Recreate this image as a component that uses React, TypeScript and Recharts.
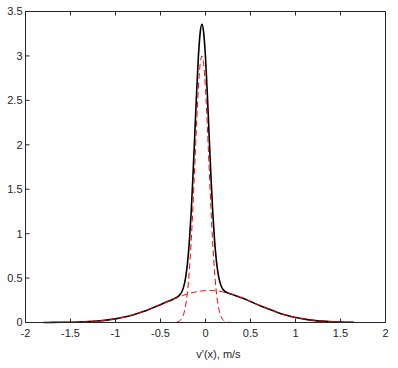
import { Line, LineChart, XAxis, YAxis } from "recharts";

// sample positions, m/s
const xs = [
  -1.8, -1.7, -1.6, -1.5, -1.4, -1.3, -1.2, -1.1, -1.0, -0.9, -0.8, -0.7, -0.6, -0.5, -0.4,
  -0.36, -0.34, -0.32, -0.3, -0.28, -0.26, -0.24, -0.22, -0.2, -0.18, -0.16, -0.14, -0.12, -0.1,
  -0.08, -0.06, -0.04, -0.02, 0, 0.02, 0.04, 0.06, 0.08, 0.1, 0.12, 0.14, 0.16, 0.18, 0.2, 0.22, 0.24,
  0.3, 0.4, 0.5, 0.6, 0.7, 0.8, 0.9, 1.0, 1.1, 1.2, 1.3, 1.4, 1.5, 1.6, 1.65,
];

// black solid curve
const total = [
  0.0, 0.001, 0.002, 0.003, 0.006, 0.01, 0.017, 0.027, 0.041, 0.062, 0.088, 0.12, 0.159, 0.201, 0.244,
  0.262, 0.272, 0.282, 0.296, 0.317, 0.352, 0.412, 0.512, 0.67, 0.905, 1.227, 1.632, 2.094, 2.563,
  2.973, 3.254, 3.355, 3.258, 2.982, 2.577, 2.112, 1.655, 1.254, 0.935, 0.704, 0.55, 0.454, 0.397, 0.366, 0.347, 0.336,
  0.315, 0.278, 0.236, 0.192, 0.151, 0.113, 0.082, 0.057, 0.038, 0.024, 0.015, 0.009, 0.005, 0.003, 0.002,
];

// red dashed, narrow component
const narrow = [
  0, 0, 0, 0, 0, 0, 0, 0, 0, 0, 0, 0, 0, 0, 0,
  0.001, 0.002, 0.004, 0.01, 0.024, 0.051, 0.104, 0.197, 0.349, 0.578, 0.895, 1.295, 1.752, 2.217,
  2.623, 2.901, 3.0, 2.901, 2.623, 2.217, 1.752, 1.295, 0.895, 0.578, 0.349, 0.197, 0.104, 0.051, 0.024, 0.01, 0.004,
  0, 0, 0, 0, 0, 0, 0, 0, 0, 0, 0, 0, 0, 0, 0,
];

// red dashed, wide component
const wide = [
  0.0, 0.001, 0.002, 0.003, 0.006, 0.01, 0.017, 0.027, 0.041, 0.062, 0.088, 0.12, 0.159, 0.201, 0.244,
  0.261, 0.27, 0.278, 0.286, 0.293, 0.301, 0.308, 0.315, 0.321, 0.327, 0.332, 0.337, 0.342, 0.346,
  0.35, 0.353, 0.355, 0.357, 0.359, 0.36, 0.36, 0.36, 0.359, 0.357, 0.355, 0.353, 0.35, 0.346, 0.342, 0.337, 0.332,
  0.315, 0.278, 0.236, 0.192, 0.151, 0.113, 0.082, 0.057, 0.038, 0.024, 0.015, 0.009, 0.005, 0.003, 0.002,
];

const xTicks = [-2, -1.5, -1, -0.5, 0, 0.5, 1, 1.5, 2];
const yTicks = [0, 0.5, 1, 1.5, 2, 2.5, 3, 3.5];

const data = xs.map((x, i) => ({ x, total: total[i], narrow: narrow[i], wide: wide[i] }));

const ink = "#262626";
const font = { fontSize: 11, fill: ink, fontFamily: "'Liberation Sans', Arial, sans-serif" };
const blank = () => "";

export default function App() {
  return (
    <div style={{ position: "absolute", left: 0, top: 0 }}>
      <LineChart width={398} height={368} data={data} margin={{ top: 10.5, right: 11.5, bottom: 0, left: 0 }}>
        <XAxis
          dataKey="x"
          type="number"
          domain={[-2, 2]}
          ticks={xTicks}
          height={45.5}
          stroke={ink}
          tickSize={-4}
          tickMargin={11}
          tick={font}
          label={{ value: "v'(x), m/s", position: "insideBottom", offset: 10, dx: 13, ...font }}
        />
        <XAxis
          xAxisId="top"
          orientation="top"
          dataKey="x"
          type="number"
          domain={[-2, 2]}
          ticks={xTicks}
          height={1}
          stroke={ink}
          tickSize={-4}
          tickFormatter={blank}
        />
        <YAxis type="number" domain={[0, 3.5]} ticks={yTicks} width={25.5} stroke={ink} tickSize={-4} tickMargin={7} tick={font} />
        <YAxis
          yAxisId="right"
          orientation="right"
          type="number"
          domain={[0, 3.5]}
          ticks={yTicks}
          width={1}
          stroke={ink}
          tickSize={-4}
          tickFormatter={blank}
        />
        <Line dataKey="total" type="monotone" stroke="#000" strokeWidth={1.6} dot={false} isAnimationActive={false} />
        <Line dataKey="narrow" type="monotone" stroke="#ff0000" strokeWidth={1} strokeDasharray="6 3.5" dot={false} isAnimationActive={false} />
        <Line dataKey="wide" type="monotone" stroke="#ff0000" strokeWidth={1} strokeDasharray="6 3.5" dot={false} isAnimationActive={false} />
      </LineChart>
    </div>
  );
}
